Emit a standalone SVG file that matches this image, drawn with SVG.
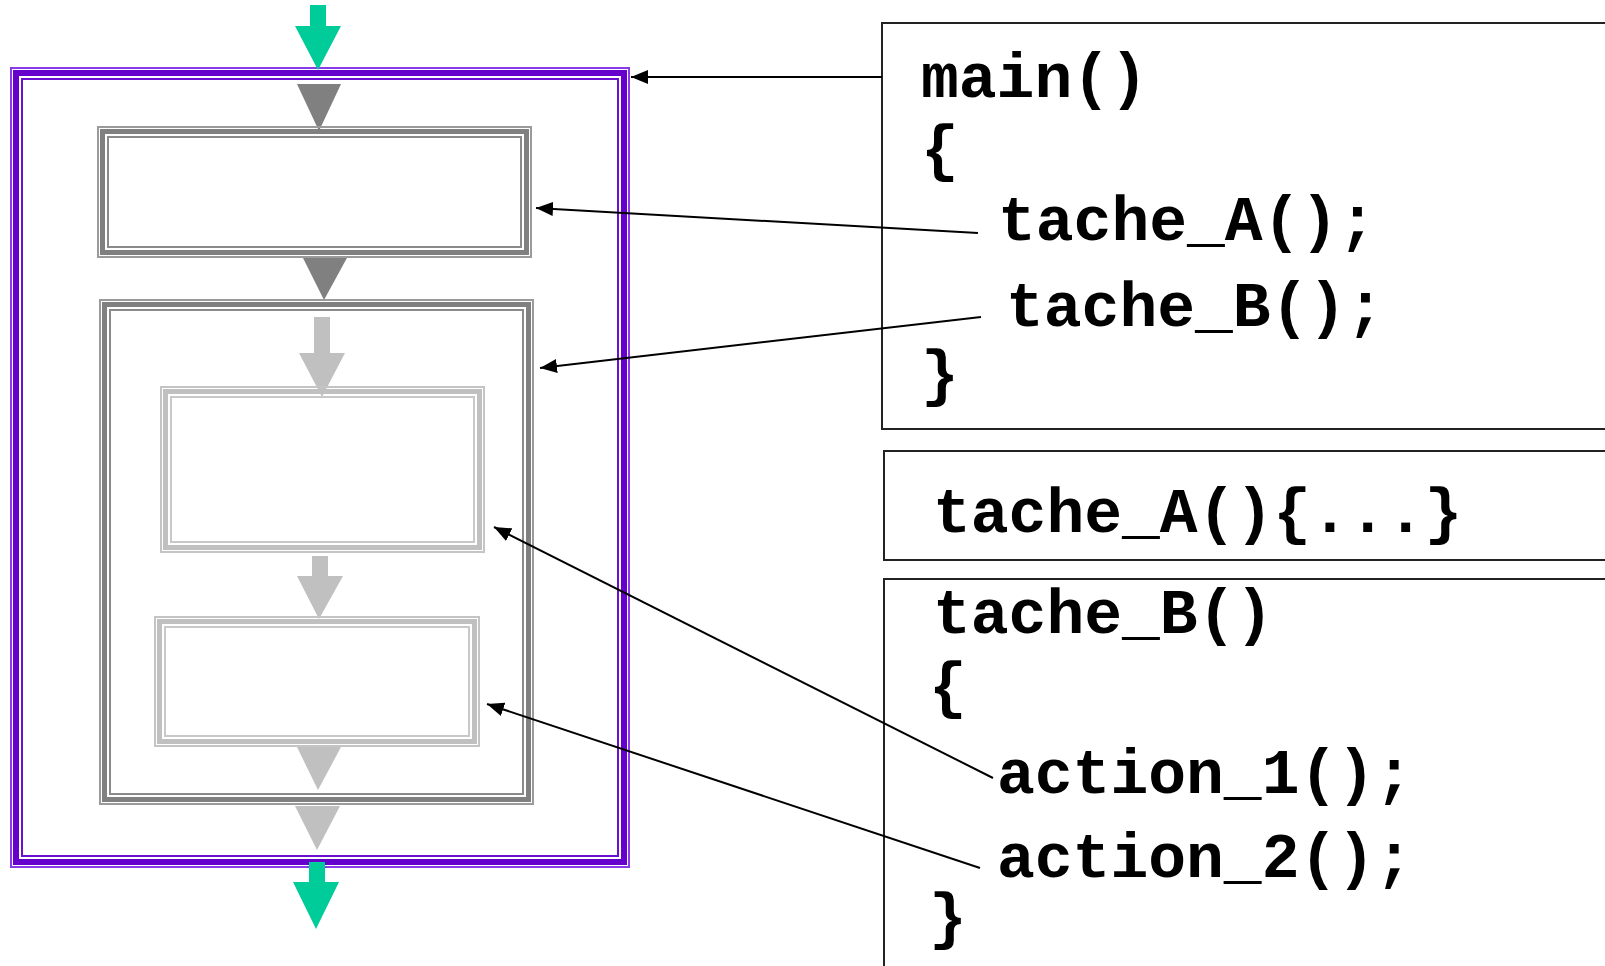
<svg xmlns="http://www.w3.org/2000/svg" width="1605" height="966" viewBox="0 0 1605 966">
<style>
.code{font-family:"Liberation Mono","Courier New",monospace;font-weight:bold;font-size:63px;fill:#000}
.cbox{fill:#fff;stroke:#222;stroke-width:2}
.p1{fill:none;stroke:#8a3ae6;stroke-width:2}
.p2{fill:none;stroke:#6600cc;stroke-width:6}
.p3{fill:none;stroke:#6a10d0;stroke-width:2}
.d1{fill:none;stroke:#9a9a9a;stroke-width:2}
.d2{fill:none;stroke:#808080;stroke-width:5}
.d3{fill:none;stroke:#8a8a8a;stroke-width:2}
.l1{fill:none;stroke:#c4c4c4;stroke-width:2}
.l2{fill:none;stroke:#c0c0c0;stroke-width:5}
.l3{fill:none;stroke:#c8c8c8;stroke-width:2}
.green{fill:#00cc99}
.dark{fill:#808080}
.light{fill:#c0c0c0}
.conn{fill:none;stroke:#000;stroke-width:2}
</style>
<defs>
<marker id="ah" markerUnits="userSpaceOnUse" markerWidth="18" markerHeight="14" refX="17" refY="7" orient="auto">
<path d="M0,0 L17,7 L0,14 z" fill="#000"/>
</marker>
</defs>
<rect width="1605" height="966" fill="#fff"/>

<g id="code-main">
<rect class="cbox" x="882" y="23" width="760" height="406"/>
<text class="code" x="921" y="97">main()</text>
<text class="code" x="921" y="169">{</text>
<text class="code" x="998" y="240">tache_A();</text>
<text class="code" x="1006" y="326">tache_B();</text>
<text class="code" x="921" y="394">}</text>
</g>
<g id="code-tacheA">
<rect class="cbox" x="884" y="451" width="760" height="109"/>
<text class="code" x="933" y="532">tache_A(){...}</text>
</g>
<g id="code-tacheB">
<rect class="cbox" x="884" y="579" width="760" height="420"/>
<text class="code" x="933" y="633">tache_B()</text>
<text class="code" x="929" y="706">{</text>
<text class="code" x="997" y="793">action_1();</text>
<text class="code" x="997" y="877">action_2();</text>
<text class="code" x="929" y="937">}</text>
</g>

<g id="main-block">
<rect class="p1" x="11" y="68" width="618" height="799"/>
<rect class="p2" x="16" y="73" width="608" height="789"/>
<rect class="p3" x="22" y="79" width="596" height="777"/>
</g>
<g id="green-in">
<polygon class="green" points="310,5 326,5 326,26 341,26 318,70 295,26 310,26"/>
</g>
<g id="green-out">
<polygon class="green" points="309,862 325,862 325,882 339,882 316,929 293,882 309,882"/>
</g>
<g id="flow-dark">
<polygon class="dark" points="297,84 341,84 319,131"/>
<polygon class="dark" points="302,256 348,256 324,300"/>
</g>
<g id="block-A">
<rect class="d1" x="98" y="127" width="433" height="130"/>
<rect class="d2" x="102.5" y="131.5" width="424" height="121"/>
<rect class="d3" x="108" y="137" width="413" height="110"/>
</g>
<g id="block-B">
<rect class="d1" x="100" y="300" width="433" height="504"/>
<rect class="d2" x="104.5" y="304.5" width="424" height="495"/>
<rect class="d3" x="110" y="310" width="413" height="484"/>
</g>
<g id="flow-light">
<polygon class="light" points="314,317 330,317 330,353 345,353 322,397 299,353 314,353"/>
<polygon class="light" points="312,556 328,556 328,576 343,576 319,619 297,576 312,576"/>
<polygon class="light" points="297,747 341,747 318,790"/>
<polygon class="light" points="295,806 340,806 317,850"/>
</g>
<g id="block-action1">
<rect class="l1" x="161" y="387" width="323" height="165"/>
<rect class="l2" x="165.5" y="391.5" width="314" height="156"/>
<rect class="l3" x="171" y="397" width="303" height="145"/>
</g>
<g id="block-action2">
<rect class="l1" x="155" y="617" width="324" height="129"/>
<rect class="l2" x="159.5" y="621.5" width="315" height="120"/>
<rect class="l3" x="165" y="627" width="304" height="109"/>
</g>

<g id="connectors">
<line class="conn" x1="882" y1="77" x2="631" y2="77" marker-end="url(#ah)"/>
<line class="conn" x1="978" y1="233" x2="536" y2="208" marker-end="url(#ah)"/>
<line class="conn" x1="981" y1="317" x2="540" y2="368" marker-end="url(#ah)"/>
<line class="conn" x1="993" y1="778" x2="494" y2="527" marker-end="url(#ah)"/>
<line class="conn" x1="980" y1="868" x2="487" y2="704" marker-end="url(#ah)"/>
</g>
</svg>
